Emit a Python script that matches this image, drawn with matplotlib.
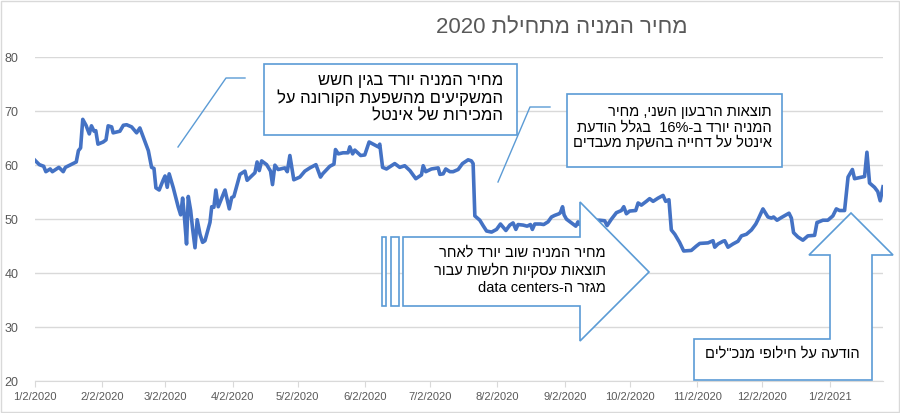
import re
from datetime import datetime
import matplotlib
matplotlib.use("Agg")
import matplotlib.pyplot as plt
import matplotlib.dates as mdates
from matplotlib.patches import Rectangle, Polygon

plt.rcParams['font.family'] = ['Liberation Sans', 'DejaVu Sans']

# days after 2 Jan 2020
days = [0, 2, 4, 5, 7, 8, 11, 13, 14, 17, 19, 20, 21, 22, 23.5, 25, 26, 27.2, 28, 29,
        31.4, 32.7, 33.7, 35.3, 36, 39.1, 40.7, 42.2, 44.5, 46.8, 48.3, 49.9, 52.2, 53.7,
        54.8, 55.7, 57.2, 59.1, 59.9, 60.9, 61.8, 63.7, 66, 67.1, 68, 68.7, 69.8, 70.6,
        71.7, 72.6, 73.7, 74.7, 76, 77.2, 78.3, 80.6, 81.4, 82.4, 83.3, 84.4, 87.5, 89.5,
        90.6, 91.6, 94.4, 95.9, 96.7, 97.7, 101.3, 102.3, 103.3, 104.4, 106.7, 108.5,
        109.4, 110.5, 112, 115.1, 116.2, 117.4, 119.2, 122, 124.3, 126.6, 129.4, 131.5,
        132.5, 135.8, 137.7, 138.4, 139.7, 141.9, 144.2, 145, 146.3, 147.3, 150, 151.9,
        153.9, 155.8, 158.1, 158.8, 160.1, 161.9, 165.7, 168, 170.3, 172.7, 175.4, 178,
        178.8, 180, 182.6, 185.7, 186.5, 188, 189.2, 191.1, 192.6, 194.9, 196.9, 199.5,
        201, 201.8, 202.6, 204.9, 206.4, 208, 210.3, 212.6, 214.4, 216.9, 218.7, 220.2,
        221.5, 222.5, 224.8, 226.7, 228.2, 229.1, 230.2, 232.8, 234.3, 236.3, 237.9,
        239.4, 241.4, 242, 243, 243.7, 244.8, 247.1, 249.1, 250.1, 250.9, 254.6, 257.8,
        260.1, 262.4, 263.5, 265.5, 267.8, 270.1, 271.2, 272.4, 273.9, 276.7, 277.8,
        279.3, 281.6, 283.1, 284.7, 287, 289.3, 290.5, 292, 293.1, 294.7, 296.9, 298.8,
        302.3, 304.6, 306.2, 310, 312.3, 313.1, 314.6, 316.9, 317.7, 319.2, 321.5, 323.8,
        325.4, 327.7, 330, 332, 333, 335.3, 337.6, 339.2, 340.2, 341.8, 343.8, 347.3,
        348.4, 349.4, 351.4, 353.7, 356, 359.1, 360.2, 361.1, 362.9, 365.2, 367.5, 369.1,
        370.6, 372.9, 374.5, 376.5, 377.5, 379.8, 382.1, 383.2, 384.4, 386.7, 388.2,
        389.3, 390.6]

price = [60.9, 60.1, 59.8, 58.8, 59.3, 58.8, 59.6, 58.8, 59.6, 60.2, 60.6, 62.7, 63.2, 68.5,
         67.4, 65.8, 67.3, 66.3, 66.4, 63.9, 64.3, 64.7, 67.3, 67.1, 66.0, 66.3, 67.4, 67.5,
         67.1, 66.0, 66.9, 65.2, 62.7, 59.6, 59.4, 55.8, 55.4, 57.3, 58.0, 55.9, 58.4, 55.8,
         52.2, 50.8, 53.9, 51.0, 45.4, 54.2, 51.6, 48.2, 44.7, 49.9, 47.2, 45.7, 46.0, 49.4,
         52.3, 52.2, 55.4, 52.3, 55.4, 51.9, 54.0, 54.2, 58.3, 58.7, 58.9, 57.2, 58.6, 60.6,
         59.0, 60.8, 60.1, 58.9, 56.4, 60.0, 59.2, 59.5, 58.8, 61.8, 57.3, 57.8, 58.9, 59.5,
         60.1, 57.8, 58.4, 59.8, 60.2, 62.9, 62.1, 62.3, 62.3, 63.4, 62.1, 62.8, 61.8, 61.9,
         64.3, 63.9, 63.4, 63.9, 59.6, 59.3, 60.3, 59.6, 59.9, 59.0, 57.5, 58.2, 59.9, 58.8,
         59.3, 59.5, 58.3, 58.4, 59.3, 58.8, 58.8, 59.2, 60.3, 61.0, 60.8, 60.3, 50.6, 49.8,
         48.8, 47.8, 47.6, 48.1, 49.1, 47.9, 48.9, 49.3, 48.1, 49.0, 48.9, 48.7, 49.0, 48.1,
         49.1, 49.1, 49.0, 49.5, 50.4, 50.7, 51.0, 51.2, 52.3, 50.8, 50.0, 49.3, 48.7, 49.5,
         49.0, 49.6, 49.8, 49.8, 49.7, 48.8, 50.0, 51.2, 51.6, 52.3, 51.0, 51.5, 51.6, 53.0,
         52.6, 53.3, 53.8, 53.3, 53.9, 54.4, 53.3, 53.6, 48.0, 47.2, 45.7, 44.1, 44.2, 45.0,
         45.5, 45.6, 46.0, 44.8, 45.4, 45.9, 46.0, 44.8, 45.4, 45.9, 46.9, 47.2, 48.0, 49.1,
         49.9, 51.9, 50.4, 50.2, 50.4, 49.8, 50.3, 51.1, 50.2, 47.5, 46.7, 46.1, 46.9, 47.0,
         49.4, 49.5, 49.8, 49.8, 50.6, 51.9, 51.6, 51.6, 57.8, 59.2, 57.5, 57.7, 57.9, 62.4,
         56.7, 55.9, 55.1, 53.4, 56.0]

tick_dates = ['2020-01-02', '2020-02-02', '2020-03-02', '2020-04-02', '2020-05-02',
              '2020-06-02', '2020-07-02', '2020-08-02', '2020-09-02', '2020-10-02',
              '2020-11-02', '2020-12-02', '2021-01-02']
tick_labels = ['1/2/2020', '2/2/2020', '3/2/2020', '4/2/2020', '5/2/2020', '6/2/2020',
               '7/2/2020', '8/2/2020', '9/2/2020', '10/2/2020', '11/2/2020', '12/2/2020',
               '1/2/2021']

title = 'מחיר המניה מתחילת 2020'
note_covid = ['מחיר המניה יורד בגין חשש', 'המשקיעים מהשפעת הקורונה על', 'המכירות של אינטל']
note_q2 = ['תוצאות הרבעון השני, מחיר', 'המניה יורד ב-16%  בגלל הודעת',
           'אינטל על דחייה בהשקת מעבדים']
note_dc = ['מחיר המניה שוב יורד לאחר', 'תוצאות עסקיות חלשות עבור', 'מגזר ה-data centers']
note_ceo = 'הודעה על חילופי מנכ"לים'


def visual(s):
    # matplotlib has no bidi support: put the hebrew text in display order
    runs = re.findall(r'[A-Za-z0-9%]+(?: [A-Za-z0-9%]+)*|[^A-Za-z0-9%]+', s)
    out = []
    for r in reversed(runs):
        out.append(r if re.match(r'[A-Za-z0-9%]', r) else r[::-1])
    return ''.join(out)


start = mdates.date2num(datetime(2020, 1, 2))
x = [start + d for d in days]

fig = plt.figure(figsize=(9, 4.13), dpi=100)
ax = fig.add_axes([35 / 900, 1 - 381 / 413, (883 - 35) / 900, (381 - 57.3) / 413])
ax.plot(x, price, color='#4472C4', lw=2.6, solid_joinstyle='round', zorder=3)

ax.set_xlim(x[0], x[-1])
ax.set_ylim(20, 80)
ax.set_yticks(range(20, 81, 10))
ax.yaxis.grid(True, color='#D9D9D9', lw=1)
ax.set_axisbelow(True)
for s in ['top', 'right', 'left']:
    ax.spines[s].set_visible(False)
ax.spines['bottom'].set_color('#D9D9D9')
ax.tick_params(axis='y', length=0, pad=12, labelsize=9, labelcolor='#595959')
ax.set_xticks([mdates.datestr2num(d) for d in tick_dates])
ax.set_xticklabels(tick_labels)
ax.tick_params(axis='x', length=4, color='#D9D9D9', pad=4, labelsize=8, labelcolor='#595959')

# overlay in pixel coordinates for the title and the callout shapes
ov = fig.add_axes([0, 0, 1, 1])
ov.set_xlim(0, 900)
ov.set_ylim(413, 0)
ov.axis('off')

edge = '#5B9BD5'
ov.add_patch(Rectangle((0.5, 0.5), 898.5, 411.5, fill=False, ec='#D9D9D9', lw=1))
ov.text(562, 28, visual(title), ha='center', va='center', fontsize=16, color='#595959')

# covid box
ov.plot([178, 226, 245], [147, 78, 78], color=edge, lw=1)
ov.add_patch(Rectangle((264, 64), 253, 71, fc='white', ec=edge, lw=1.2))
for i, line in enumerate(note_covid):
    ov.text(503, 80 + i * 18, visual(line), ha='right', va='center', fontsize=12)

# Q2 box
ov.plot([498, 530, 550], [182, 107, 107], color=edge, lw=1)
ov.add_patch(Rectangle((567, 94), 215, 73, fc='white', ec=edge, lw=1.2))
for i, line in enumerate(note_q2):
    ov.text(772, 112 + i * 15.3, visual(line), ha='right', va='center', fontsize=10.5)

# data centers arrow with striped tail
ov.add_patch(Rectangle((382, 237), 4, 69, fc='white', ec=edge, lw=1.2))
ov.add_patch(Rectangle((391, 237), 7.5, 69, fc='white', ec=edge, lw=1.2))
ov.add_patch(Polygon([(403, 237), (580, 237), (580, 202), (649, 272), (580, 341),
                      (580, 306), (403, 306)], closed=True, fc='white', ec=edge, lw=1.2))
for i, line in enumerate(note_dc):
    ov.text(606, 253 + i * 17.5, visual(line), ha='right', va='center', fontsize=10.5)

# CEO change up-arrow callout
ov.add_patch(Polygon([(694, 339), (830, 339), (830, 255), (809, 255), (851, 213), (893, 255),
                      (872, 255), (872, 380), (694, 380)], closed=True, fc='white', ec=edge,
                     lw=1.2))
ov.text(860, 354, visual(note_ceo), ha='right', va='center', fontsize=10.5)

fig.savefig('out.png', dpi=100)
